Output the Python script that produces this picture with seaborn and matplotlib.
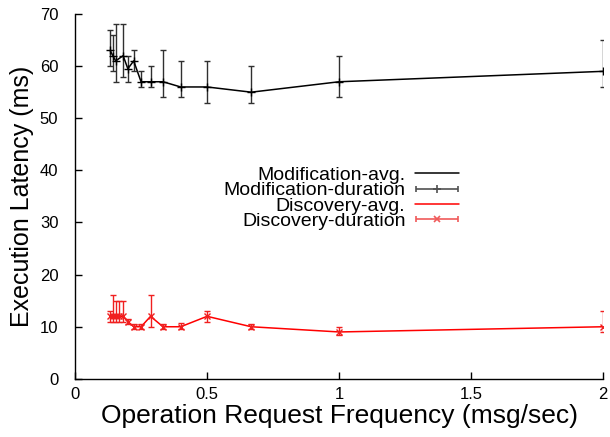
import seaborn as sns
import numpy as np
import pandas as pd
import matplotlib
matplotlib.use("Agg")
import matplotlib.pyplot as plt
from matplotlib.container import ErrorbarContainer
from matplotlib.legend_handler import HandlerErrorbar

# request frequency (msg/sec)
mod_freq = [0.133, 0.143, 0.154, 0.182, 0.2, 0.222, 0.25, 0.286, 0.333, 0.4, 0.5, 0.667, 1, 2]
mod_avg = [63, 62, 61, 62, 59.5, 61, 57, 57, 57, 56, 56, 55, 57, 59]
mod_low = [60, 59, 57, 58, 57, 59, 56, 56, 54, 54, 53, 53, 54, 56]
mod_high = [67, 66, 68, 68, 62, 63, 59, 60, 63, 61, 61, 60, 62, 65]

disc_freq = [0.133, 0.143, 0.154, 0.167, 0.182, 0.2, 0.222, 0.25, 0.286, 0.333, 0.4, 0.5, 0.667, 1, 2]
disc_avg = [12, 12, 12, 12, 12, 11, 10, 10, 12, 10, 10, 12, 10, 9, 10]
disc_low = [11, 11, 11, 11, 11, 10.5, 9.5, 9.5, 10, 9.5, 9.5, 11, 9.5, 8.5, 9]
disc_high = [13, 16, 15, 15, 15, 11.5, 10.5, 10.5, 16, 10.5, 10.8, 13, 10.6, 10, 13]

x_ticks = [0, 0.5, 1, 1.5, 2]
x_tick_labels = ["0", "0.5", "1", "1.5", "2"]
y_ticks = [0, 10, 20, 30, 40, 50, 60, 70]

sns.set_style("ticks")
plt.rcParams["font.family"] = ["Liberation Sans", "DejaVu Sans"]
plt.rcParams["text.color"] = "black"
plt.rcParams["axes.labelcolor"] = "black"

mod = pd.DataFrame({"freq": mod_freq, "avg": mod_avg})
disc = pd.DataFrame({"freq": disc_freq, "avg": disc_avg})

fig = plt.figure(figsize=(6.1, 4.37), dpi=100)
ax = fig.add_axes([0.123, 0.133, 0.866, 0.835])

sns.lineplot(data=mod, x="freq", y="avg", ax=ax, color="black", lw=1.1,
             estimator=None, label="Modification-avg.")
ax.errorbar(mod_freq, mod_avg,
            yerr=[np.subtract(mod_avg, mod_low), np.subtract(mod_high, mod_avg)],
            fmt="+", color="black", ecolor="#303030", elinewidth=1, capsize=2.5,
            markersize=6, mew=1)
sns.lineplot(data=disc, x="freq", y="avg", ax=ax, color="red", lw=1.1,
             estimator=None, label="Discovery-avg.")
ax.errorbar(disc_freq, disc_avg,
            yerr=[np.subtract(disc_avg, disc_low), np.subtract(disc_high, disc_avg)],
            fmt="x", color="#f02020", elinewidth=1, capsize=2.5,
            markersize=5, mew=1)

# horizontal error-bar samples for the key, like gnuplot draws them
mod_key = ax.errorbar([np.nan], [np.nan], xerr=[1], fmt="+", color="#505050",
                      elinewidth=1.2, capsize=2.5, markersize=6, mew=1.2)
disc_key = ax.errorbar([np.nan], [np.nan], xerr=[1], fmt="x", color="#f05a5a",
                       elinewidth=1.2, capsize=2.5, markersize=5, mew=1.2)

ax.set_xlim(0, 2)
ax.set_ylim(0, 70)
ax.set_xticks(x_ticks)
ax.set_xticklabels(x_tick_labels)
ax.set_yticks(y_ticks)
ax.tick_params(direction="in", length=5, labelsize=12, colors="black", width=1)
ax.tick_params(axis="x", pad=6)
ax.tick_params(axis="y", pad=12)
sns.despine(ax=ax)
for s in ["left", "bottom"]:
    ax.spines[s].set_linewidth(1)
    ax.spines[s].set_color("black")

ax.set_xlabel("Operation Request Frequency (msg/sec)", fontsize=19, labelpad=1)
ax.set_ylabel("Execution Latency (ms)", fontsize=18, labelpad=4)

lines = ax.get_legend_handles_labels()[0]
handles = [lines[0], mod_key, lines[1], disc_key]
labels = ["Modification-avg.", "Modification-duration", "Discovery-avg.", "Discovery-duration"]
leg = ax.legend(handles, labels, loc="center right", bbox_to_anchor=(0.727, 0.495),
                markerfirst=False, frameon=False, fontsize=14, labelspacing=-0.11,
                handlelength=2.26, handletextpad=0.5, borderpad=0, borderaxespad=0,
                handler_map={ErrorbarContainer: HandlerErrorbar(xerr_size=1.1)})

fig.savefig("out.png", dpi=100)
